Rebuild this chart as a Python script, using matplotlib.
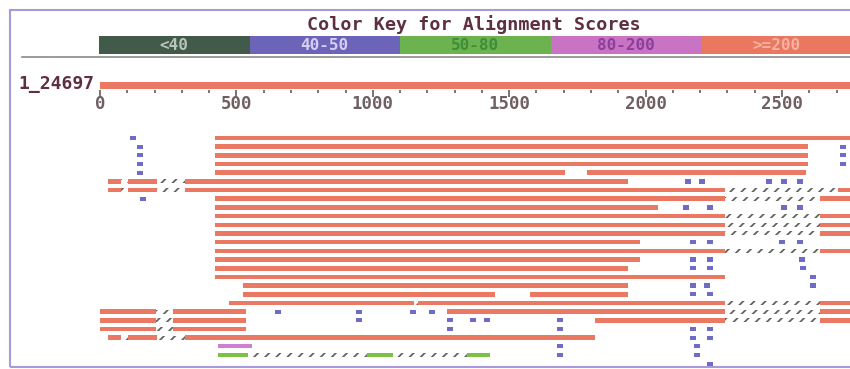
import matplotlib
matplotlib.use("Agg")
import matplotlib.pyplot as plt
from matplotlib.patches import Rectangle
from matplotlib.lines import Line2D

# ---------------- data ----------------
query_name = "1_24697"
query_length = 2790
tick_major = [0, 500, 1000, 1500, 2000, 2500]
tick_minor_step = 100

key_labels = ["<40", "40-50", "50-80", "80-200", ">=200"]
key_colors = ["#425a4a", "#6b64b9", "#6cb24e", "#c873c4", "#ea7860"]
key_text_colors = ["#b9c4bc", "#d6cff2", "#3f8d3a", "#8b3f9a", "#f3b3a2"]

# (row, start, end) for high scoring (>=200) segments
red_segments = [
    (0, 420, 2790),
    (1, 420, 2595), (2, 420, 2595), (3, 420, 2595),
    (4, 420, 1705), (4, 1785, 2588),
    (5, 29, 77), (5, 103, 209), (5, 312, 1935),
    (6, 29, 77), (6, 103, 209), (6, 312, 2291), (6, 2705, 2790),
    (7, 420, 2291), (7, 2639, 2790),
    (8, 420, 2045),
    (9, 420, 2291), (9, 2639, 2790),
    (10, 420, 2291), (10, 2639, 2790),
    (11, 420, 2291), (11, 2639, 2790),
    (12, 420, 1979),
    (13, 420, 2291), (13, 2639, 2790),
    (14, 420, 1979),
    (15, 420, 1935),
    (16, 420, 2291),
    (17, 524, 1935),
    (18, 524, 1448), (18, 1576, 1935),
    (19, 473, 1150), (19, 1165, 2291), (19, 2639, 2790),
    (20, 0, 205), (20, 268, 535), (20, 1272, 2291), (20, 2639, 2790),
    (21, 0, 205), (21, 268, 535), (21, 1815, 2291), (21, 2639, 2790),
    (22, 0, 205), (22, 268, 535),
    (23, 29, 77), (23, 103, 209), (23, 312, 1815),
]

# (row, start, end) hatched connectors between segments of one hit
gap_segments = [
    (5, 77, 103), (5, 209, 312),
    (6, 77, 103), (6, 209, 312), (6, 2291, 2705),
    (7, 2291, 2639), (9, 2291, 2639), (10, 2291, 2639), (11, 2291, 2639),
    (13, 2291, 2639),
    (19, 1150, 1165), (19, 2291, 2639),
    (20, 205, 268), (20, 2291, 2639),
    (21, 205, 268), (21, 2291, 2639),
    (22, 205, 268),
    (23, 77, 103), (23, 209, 312),
    (25, 543, 979), (25, 1074, 1345),
]

# (row, centre) short 40-50 hits
blue_hits = [
    (0, 121), (1, 147), (2, 147), (3, 147), (4, 147), (7, 158),
    (1, 2724), (2, 2724), (3, 2724),
    (5, 2155), (5, 2207), (5, 2452), (5, 2507), (5, 2566),
    (8, 2148), (8, 2236), (8, 2507), (8, 2566),
    (12, 2174), (12, 2236), (12, 2500), (12, 2566),
    (14, 2174), (14, 2236), (14, 2573),
    (15, 2174), (15, 2236), (15, 2577),
    (16, 2614),
    (17, 2174), (17, 2225), (17, 2614),
    (18, 2174), (18, 2236),
    (20, 652), (20, 949), (20, 1147), (20, 1217),
    (21, 949), (21, 1283), (21, 1367), (21, 1419), (21, 1686),
    (22, 1283), (22, 1686), (22, 2174), (22, 2236),
    (23, 2174), (23, 2236),
    (24, 1686), (24, 2188),
    (25, 1686), (25, 2188),
    (26, 2236),
]

magenta_segments = [(24, 433, 557)]
green_segments = [(25, 433, 543), (25, 979, 1074), (25, 1345, 1430)]

# ---------------- styling / layout ----------------
W, H = 850, 369
PX = 0.2728          # pixels per sequence unit
X0 = 100             # pixel of position 0
RED = "#ea7862"
BLUE = "#6d6cc6"
GREEN = "#7cc242"
MAGENTA = "#cf7ed2"
HATCH = "#5f6460"
TXT = "#5e2f3e"
FONT = "DejaVu Sans Mono"

def row_y(r):
    return 138 + 8.68 * r

fig = plt.figure(figsize=(W / 100, H / 100), dpi=100)
fig.patch.set_facecolor("white")
ax = fig.add_axes([0, 0, 1, 1])
ax.set_xlim(-X0 / PX, (W - X0) / PX)
ax.set_ylim(H, 0)
ax.axis("off")

plt.rcParams["hatch.linewidth"] = 1.3

def draw(segs, color, h):
    ax.barh([row_y(r) for r, s, e in segs], [e - s for r, s, e in segs],
            left=[s for r, s, e in segs], height=h, color=color, linewidth=0)

draw(red_segments, RED, 4.6)
draw(magenta_segments, MAGENTA, 4.0)
draw(green_segments, GREEN, 4.0)
ax.barh([row_y(r) for r, s, e in gap_segments], [e - s for r, s, e in gap_segments],
        left=[s for r, s, e in gap_segments], height=4.0, color="none",
        hatch="///", edgecolor=HATCH, linewidth=0)
ax.barh([row_y(r) for r, c in blue_hits], 22, left=[c - 11 for r, c in blue_hits],
        height=4.2, color=BLUE, linewidth=0)

# query ruler
ax.barh(85.5, query_length, left=0, height=7.5, color=RED, linewidth=0)
for t in range(0, query_length, tick_minor_step):
    major = t in tick_major
    ax.plot([t, t], [89.5, 97 if major else 93], color="#6a5a5a", lw=1.2,
            solid_capstyle="butt")
for t in tick_major:
    ax.text(t, 104, str(t), ha="center", va="center", fontsize=12.5,
            fontweight="bold", family=FONT, color="#6e5f62")
fig.text(94 / W, 1 - 84 / H, query_name, ha="right", va="center", fontsize=13,
         fontweight="bold", family=FONT, color=TXT)

# colour key
kax = fig.add_axes([99 / W, 1 - 54 / H, (W - 99) / W, 18 / H])
kax.barh([0] * len(key_labels), 1, left=range(len(key_labels)), height=1,
         color=key_colors, linewidth=0)
for i, (lab, tc) in enumerate(zip(key_labels, key_text_colors)):
    kax.text(i + 0.5, 0, lab, ha="center", va="center", fontsize=11.5,
             fontweight="bold", family=FONT, color=tc)
kax.set_xlim(0, 4.99)
kax.set_ylim(-0.5, 0.5)
kax.axis("off")

fig.text(474 / W, 1 - 25 / H, "Color Key for Alignment Scores", ha="center",
         va="center", fontsize=13.2, fontweight="bold", family=FONT, color=TXT)
fig.add_artist(Line2D([22 / W, 1], [1 - 56.5 / H] * 2, transform=fig.transFigure,
                      color="#8a8a8a", lw=1.2))

# frame
fig.add_artist(Rectangle((10 / W, 2 / H), 1, 1 - 12 / H, transform=fig.transFigure,
                         fill=False, edgecolor="#a898dc", lw=1.5))

fig.savefig("out.png", dpi=100, facecolor="white")
